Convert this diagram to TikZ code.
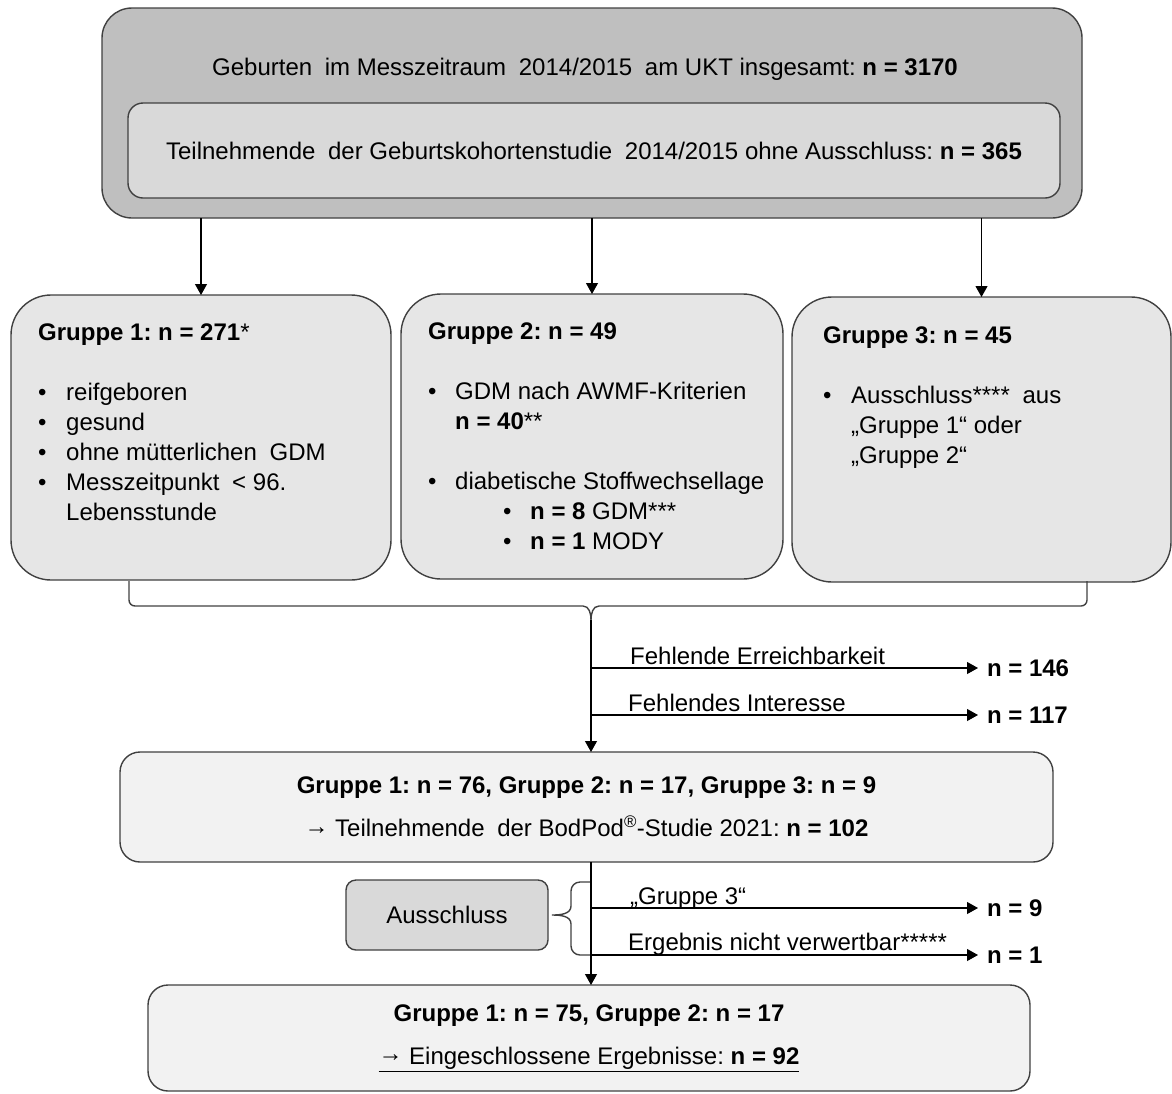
\documentclass[tikz,border=0pt]{standalone}
\usepackage{fontspec}
\setmainfont{Liberation Sans}
\usepackage{array}
\usetikzlibrary{arrows.meta}
\definecolor{grau1}{HTML}{BFBFBF}
\definecolor{grau2}{HTML}{D9D9D9}
\definecolor{grau3}{HTML}{E6E6E6}
\definecolor{grau4}{HTML}{F2F2F2}
\definecolor{rahmen}{HTML}{404040}
\newcommand{\lueck}{\hspace{6pt}}
\newcommand{\folgt}{\raisebox{2.5pt}{→}}
\frenchspacing

\begin{document}
\begin{tikzpicture}[x=1pt, y=-1pt, font=\fontsize{24}{30}\selectfont,
  kasten/.style={draw=rahmen, line width=1.4pt, inner sep=0pt, outer sep=0pt},
  pfeil/.style={line width=1.1pt, -{Triangle[length=11pt,width=12pt]}},
  klammer/.style={draw=rahmen, line width=1.4pt},
  zahl/.style={anchor=west, inner xsep=9pt, inner ysep=0pt, outer sep=0pt, font=\fontsize{24}{30}\selectfont\bfseries},
  grund/.style={anchor=base west, inner sep=0pt}]
\useasboundingbox (0,0) rectangle (1172,1093);

\node[kasten, fill=grau1, rounded corners=30pt, minimum width=980pt, minimum height=210pt] (oben) at (592,113) {};
\node[anchor=base] (geburten) at (585,75) {Geburten \lueck im Messzeitraum \lueck 2014/2015 \lueck am UKT insgesamt: \textbf{n = 3170}};
\node[kasten, fill=grau2, rounded corners=15pt, minimum width=932pt, minimum height=95pt] (kohorte) at (594,150.5) {Teilnehmende \lueck der Geburtskohortenstudie \lueck 2014/2015 ohne Ausschluss: \textbf{n = 365}};

\node[kasten, fill=grau3, rounded corners=40pt, minimum width=380pt, minimum height=285pt] (g1) at (201,437.5) {};
\node[kasten, fill=grau3, rounded corners=40pt, minimum width=382pt, minimum height=285pt] (g2) at (592,436.5) {};
\node[kasten, fill=grau3, rounded corners=40pt, minimum width=379pt, minimum height=285pt] (g3) at (981.5,439.5) {};

\node[grund] (g1text) at (38,340) {\begin{tabular}[t]{@{}p{28pt}@{}l@{}}
\multicolumn{2}{@{}l@{}}{\textbf{Gruppe 1: n = 271}*}\\[30pt]
\textbullet & reifgeboren\\
\textbullet & gesund\\
\textbullet & ohne mütterlichen \lueck GDM\\
\textbullet & Messzeitpunkt \lueck < 96.\\
 & Lebensstunde
\end{tabular}};
\node[grund] (g2text) at (428,339) {\begin{tabular}[t]{@{}p{27pt}@{}l@{}}
\multicolumn{2}{@{}l@{}}{\textbf{Gruppe 2: n = 49}}\\[30pt]
\textbullet & GDM nach AWMF-Kriterien\\
 & \textbf{n = 40}**\\[30pt]
\textbullet & diabetische Stoffwechsellage\\
 & \hspace{48pt}\makebox[27pt][l]{\textbullet}\textbf{n = 8} GDM***\\
 & \hspace{48pt}\makebox[27pt][l]{\textbullet}\textbf{n = 1} MODY
\end{tabular}};
\node[grund] (g3text) at (823,343) {\begin{tabular}[t]{@{}p{28pt}@{}l@{}}
\multicolumn{2}{@{}l@{}}{\textbf{Gruppe 3: n = 45}}\\[30pt]
\textbullet & Ausschluss**** \lueck aus\\
 & „Gruppe 1“ oder\\
 & „Gruppe 2“
\end{tabular}};

\draw[pfeil] (g1.north |- oben.south) -- (g1.north);
\draw[pfeil] (g2.north |- oben.south) -- (g2.north);
\draw[pfeil] (g3.north |- oben.south) -- (g3.north);

\draw[klammer] (129,581) -- (129,600) to[out=-90,in=180] (135,606) -- (583,606) to[out=0,in=90] (591,620) to[out=90,in=180] (599,606) -- (1081,606) to[out=0,in=-90] (1087,600) -- (1087,581);
\coordinate (spitze) at (591,620);

\node[kasten, fill=grau4, rounded corners=20pt, minimum width=933pt, minimum height=110pt, align=center] (box4) at (586.5,807) {\textbf{Gruppe 1: n = 76, Gruppe 2: n = 17, Gruppe 3: n = 9}\\[13pt] \folgt{} Teilnehmende \lueck der BodPod\textsuperscript{®}-Studie 2021: \textbf{n = 102}};
\draw[pfeil] (spitze) -- (spitze |- box4.north);

\coordinate (ab1) at (591,668);
\coordinate (ab2) at (591,715);
\node[zahl] (n146) at (978,668) {n = 146};
\node[zahl] (n117) at (978,715) {n = 117};
\node[grund] (erreich) at (630,664) {Fehlende Erreichbarkeit};
\node[grund] (interesse) at (628,711) {Fehlendes Interesse};
\draw[pfeil] (ab1) -- (n146.west);
\draw[pfeil] (ab2) -- (n117.west);

\node[kasten, fill=grau2, rounded corners=10pt, minimum width=202pt, minimum height=70pt] (ausschluss) at (447,915) {Ausschluss};
\draw[klammer] (591,882) -- (580,882) to[out=180,in=90] (571,891) -- (571,906) to[out=-90,in=0] (552,915) to[out=0,in=90] (571,924) -- (571,946) to[out=-90,in=180] (580,955) -- (591,955);

\node[kasten, fill=grau4, rounded corners=20pt, minimum width=882pt, minimum height=106pt, align=center] (final) at (589,1038) {\textbf{Gruppe 1: n = 75, Gruppe 2: n = 17}\\[13pt] \underline{\folgt{} Eingeschlossene Ergebnisse: \textbf{n = 92}}};
\draw[pfeil] (spitze |- box4.south) -- (spitze |- final.north);

\coordinate (ab3) at (591,908);
\coordinate (ab4) at (591,955);
\node[zahl] (n9) at (978,908) {n = 9};
\node[zahl] (n1) at (978,955) {n = 1};
\node[grund] (gruppe3) at (630,904) {„Gruppe 3“};
\node[grund] (verwertbar) at (628,950) {Ergebnis nicht verwertbar*****};
\draw[pfeil] (ab3) -- (n9.west);
\draw[pfeil] (ab4) -- (n1.west);
\end{tikzpicture}
\end{document}
